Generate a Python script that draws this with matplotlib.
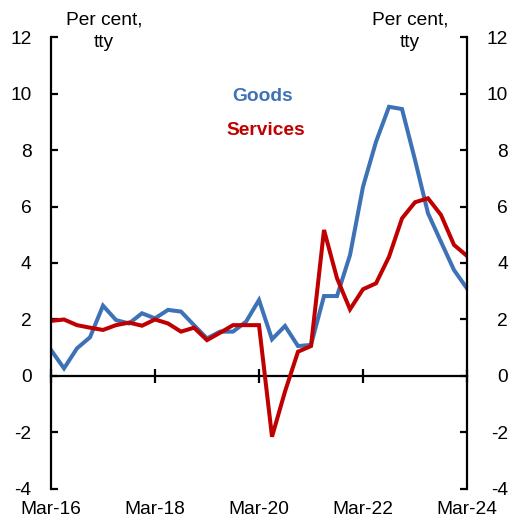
import matplotlib
matplotlib.use("Agg")
import matplotlib.pyplot as plt
import matplotlib.transforms as mtrans

# ================================================================
#  DATA  (quarterly, Mar-16 .. Mar-24, per cent year-ended)
# ================================================================
quarters = [
    "Mar-16", "Jun-16", "Sep-16", "Dec-16",
    "Mar-17", "Jun-17", "Sep-17", "Dec-17",
    "Mar-18", "Jun-18", "Sep-18", "Dec-18",
    "Mar-19", "Jun-19", "Sep-19", "Dec-19",
    "Mar-20", "Jun-20", "Sep-20", "Dec-20",
    "Mar-21", "Jun-21", "Sep-21", "Dec-21",
    "Mar-22", "Jun-22", "Sep-22", "Dec-22",
    "Mar-23", "Jun-23", "Sep-23", "Dec-23",
    "Mar-24",
]
goods = [
    0.92, 0.27, 0.98, 1.37, 2.49, 1.98, 1.86, 2.22,
    2.04, 2.34, 2.28, 1.80, 1.33, 1.57, 1.57, 1.92,
    2.69, 1.30, 1.77, 1.06, 1.10, 2.83, 2.83, 4.28,
    6.70, 8.29, 9.53, 9.45, 7.65, 5.76, 4.75, 3.75,
    3.10,
]
services = [
    1.95, 2.00, 1.80, 1.71, 1.63, 1.80, 1.89, 1.78,
    2.00, 1.86, 1.57, 1.71, 1.27, 1.53, 1.80, 1.80,
    1.80, -2.15, -0.55, 0.86, 1.06, 5.17, 3.46, 2.36,
    3.07, 3.28, 4.22, 5.58, 6.15, 6.29, 5.70, 4.64,
    4.25,
]
tick_labels = ["Mar-16", "Mar-18", "Mar-20", "Mar-22", "Mar-24"]
y_ticks = [-4, -2, 0, 2, 4, 6, 8, 10, 12]

BLUE = "#3d73b6"
RED = "#c00000"
FS = 13.8

plt.rcParams["font.family"] = ["Liberation Sans", "DejaVu Sans"]

x = list(range(len(quarters)))
tick_pos = [quarters.index(t) for t in tick_labels]

fig = plt.figure(figsize=(5.1, 5.25), dpi=100)
ax = fig.add_axes([0.1, 0.0686, 0.8157, 0.8609])

ax.plot(x, goods, color=BLUE, linewidth=2.9, solid_joinstyle="miter")
ax.plot(x, services, color=RED, linewidth=2.9, solid_joinstyle="miter")

ax.set_xlim(0, len(quarters) - 1)
ax.set_ylim(-4, 12)

# spines: left + right only, x-axis line drawn at zero
ax.spines["top"].set_visible(False)
ax.spines["bottom"].set_visible(False)
for s in ("left", "right"):
    ax.spines[s].set_linewidth(1.6)

ax.set_yticks(y_ticks)
ax.set_yticklabels([str(v) for v in y_ticks])
ax.tick_params(axis="y", direction="in", length=5, width=1.6, pad=14,
               labelsize=FS, left=True, right=True,
               labelleft=True, labelright=True)

# right-hand labels are right-aligned, ending near the figure edge
right_tf = (mtrans.blended_transform_factory(ax.transAxes, ax.transData)
            + mtrans.ScaledTranslation(41 / 100, 0, fig.dpi_scale_trans))
for t in ax.yaxis.get_major_ticks():
    t.label2.set_horizontalalignment("right")
    t.label2.set_x(1.0)
    t.label2.set_transform(right_tf)

ax.set_xticks(tick_pos)
ax.set_xticklabels(tick_labels)
ax.tick_params(axis="x", length=0, labelsize=FS, pad=9)

# zero line with crossing ticks
zero = ax.secondary_xaxis(4 / 16)
zero.set_xticks(tick_pos)
zero.tick_params(axis="x", direction="inout", length=10, width=1.6,
                 labelbottom=False)
zero.spines["bottom"].set_linewidth(1.6)

# series labels
ax.text(16.3, 9.9, "Goods", color=BLUE, fontsize=FS, fontweight="bold",
        ha="center", va="center")
ax.text(16.5, 8.7, "Services", color=RED, fontsize=FS, fontweight="bold",
        ha="center", va="center")

# unit labels
fig.text(104 / 510, 1 - 31 / 525, "Per cent,\ntty", fontsize=FS,
         ha="center", va="center", multialignment="center", linespacing=1.4)
fig.text(410 / 510, 1 - 31 / 525, "Per cent,\ntty", fontsize=FS,
         ha="center", va="center", multialignment="center", linespacing=1.4)

fig.savefig("out.png", dpi=100)
